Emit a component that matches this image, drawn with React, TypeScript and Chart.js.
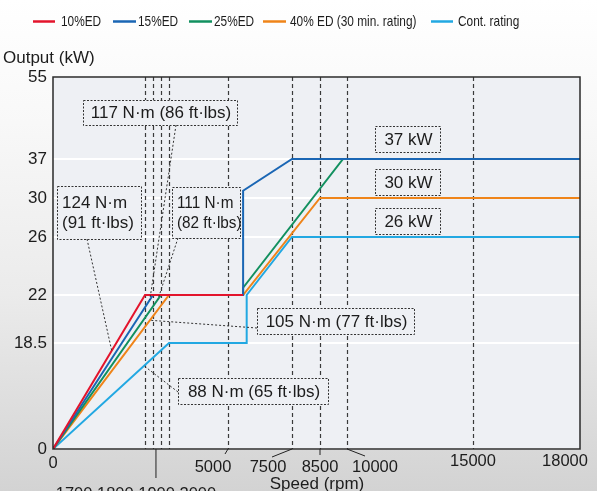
import React, { useEffect, useRef } from 'react';
import { Chart, registerables } from 'chart.js';
Chart.register(...registerables);

// ---------- data ----------
const seriesNames = ['10%ED', '15%ED', '25%ED', '40% ED (30 min. rating)', 'Cont. rating'];
const seriesColors = ['#e3142c', '#1a66b4', '#12905f', '#ef8419', '#22a8e2'];

const ed10Rpm = [0, 1700, 5590];
const ed10Kw = [0, 22, 22];
const ed15Rpm = [0, 1800, 5590, 5590, 7500, 18000];
const ed15Kw = [0, 22, 22, 31.3, 37, 37];
const ed25Rpm = [0, 1900, 5590, 5590, 9780, 18000];
const ed25Kw = [0, 22, 22, 22.5, 37, 37];
const ed40Rpm = [0, 2000, 5590, 8500, 18000];
const ed40Kw = [0, 22, 22, 30, 30];
const contRpm = [0, 2000, 5730, 5730, 7500, 18000];
const contKw = [0, 18.5, 18.5, 22, 26, 26];

const seriesRpm = [ed10Rpm, ed15Rpm, ed25Rpm, ed40Rpm, contRpm];
const seriesKw = [ed10Kw, ed15Kw, ed25Kw, ed40Kw, contKw];

// axis tick values (non-linear axes of the original drawing)
const xTickValues = [0, 1700, 1800, 1900, 2000, 5000, 7500, 8500, 10000, 15000, 18000];
const yTickValues = [0, 18.5, 22, 26, 30, 37, 55];
const yTickLabels = ['0', '18.5', '22', '26', '30', '37', '55'];
const dashedRpm = [1700, 1800, 1900, 2000, 5000, 7500, 8500, 10000, 15000];

// ---------- scale geometry (break positions of the piecewise axes) ----------
const xBreaks = [0, 92, 100, 108, 116, 175, 239, 267, 294, 420, 527];
const yBreaks = [0, 106, 154, 212, 251, 290, 372];

function piecewise(v: number, from: number[], to: number[]) {
  if (v <= from[0]) return to[0];
  for (let i = 0; i < from.length - 1; i++) {
    if (v <= from[i + 1]) {
      const t = (v - from[i]) / (from[i + 1] - from[i]);
      return to[i] + t * (to[i + 1] - to[i]);
    }
  }
  return to[to.length - 1];
}
const mapX = (rpm: number) => piecewise(rpm, xTickValues, xBreaks);
const mapY = (kw: number) => piecewise(kw, yTickValues, yBreaks);

const FONT = '"Liberation Sans", Arial, Helvetica, sans-serif';
const TEXT = '#1c1c1c';

// annotation layout
const boxes = [
  { x: 83, y: 100, w: 154, h: 25, lines: ['117 N·m (86 ft·lbs)'], sx: 1, left: false },
  { x: 57, y: 186, w: 84, h: 53, lines: ['124 N·m', '(91 ft·lbs)'], sx: 1, left: true },
  { x: 172, y: 187, w: 68, h: 51, lines: ['111 N·m', '(82 ft·lbs)'], sx: 0.9, left: true },
  { x: 257, y: 308, w: 157, h: 26, lines: ['105 N·m (77 ft·lbs)'], sx: 1, left: false },
  { x: 178, y: 378, w: 150, h: 26, lines: ['88 N·m (65 ft·lbs)'], sx: 1, left: false },
  { x: 375, y: 126, w: 65, h: 26, lines: ['37 kW'], sx: 1, left: false },
  { x: 375, y: 169, w: 65, h: 26, lines: ['30 kW'], sx: 1, left: false },
  { x: 375, y: 208, w: 65, h: 26, lines: ['26 kW'], sx: 1, left: false },
];
const leaders = [
  { sx: 176, sy: 125, series: 1, rpm: 1760 },
  { sx: 87, sy: 239, series: 0, rpm: 1085 },
  { sx: 178, sy: 238, series: 2, rpm: 1862 },
  { sx: 257, sy: 328, series: 3, rpm: 1762 },
  { sx: 178, sy: 392, series: 4, rpm: 1682 },
];
const xLabels = [
  { text: '0', rpm: 0, dx: 0, y: 463, lead: null as null | number[] },
  { text: '5000', rpm: 5000, dx: -15, y: 467, lead: [-3, 5] },
  { text: '7500', rpm: 7500, dx: -24, y: 467, lead: [-20, 8] },
  { text: '8500', rpm: 8500, dx: 0, y: 467, lead: [0, 6] },
  { text: '10000', rpm: 10000, dx: 28, y: 467, lead: [18, 7] },
  { text: '15000', rpm: 15000, dx: 0, y: 461, lead: null },
  { text: '18000', rpm: 18000, dx: -15, y: 461, lead: null },
  { text: '1700 1800 1900 2000', rpm: 1837, dx: -20, y: 494, lead: [0, 29] },
];
const legendItems = [
  { x1: 33, x2: 55, tx: 61 },
  { x1: 113, x2: 136, tx: 138 },
  { x1: 189, x2: 212, tx: 214 },
  { x1: 263, x2: 286, tx: 290 },
  { x1: 431, x2: 453, tx: 458 },
];

function drawText(ctx: CanvasRenderingContext2D, text: string, x: number, y: number, size: number, align: CanvasTextAlign, sx = 1) {
  ctx.save();
  ctx.font = `${size}px ${FONT}`;
  ctx.fillStyle = TEXT;
  ctx.textAlign = align;
  ctx.textBaseline = 'middle';
  ctx.translate(x, y);
  ctx.scale(sx, 1);
  ctx.fillText(text, 0, 0);
  ctx.restore();
}

function pointOn(chart: any, si: number, rpm: number) {
  const rpms = seriesRpm[si];
  const kws = seriesKw[si];
  const tx = mapX(rpm);
  let ty = mapY(kws[0]);
  for (let i = 0; i < rpms.length - 1; i++) {
    const x0 = mapX(rpms[i]);
    const x1 = mapX(rpms[i + 1]);
    if (x1 > x0 && tx >= x0 && tx <= x1) {
      const t = (tx - x0) / (x1 - x0);
      ty = mapY(kws[i]) + t * (mapY(kws[i + 1]) - mapY(kws[i]));
      break;
    }
  }
  return { x: chart.scales.x.getPixelForValue(tx), y: chart.scales.y.getPixelForValue(ty) };
}

const decorPlugin = {
  id: 'decor',
  beforeDraw(chart: any) {
    const { ctx, chartArea: a } = chart;
    ctx.save();
    ctx.fillStyle = '#eef0f4';
    ctx.fillRect(a.left, a.top, a.right - a.left, a.bottom - a.top);
    ctx.restore();
  },
  beforeDatasetsDraw(chart: any) {
    const { ctx, chartArea: a } = chart;
    const xs = chart.scales.x;
    ctx.save();
    ctx.strokeStyle = '#3a3a3a';
    ctx.lineWidth = 1.2;
    ctx.setLineDash([4, 3]);
    for (const v of dashedRpm) {
      const px = Math.round(xs.getPixelForValue(mapX(v))) + 0.5;
      ctx.beginPath();
      ctx.moveTo(px, a.top);
      ctx.lineTo(px, a.bottom);
      ctx.stroke();
    }
    ctx.restore();
  },
  afterDatasetsDraw(chart: any) {
    const { ctx, chartArea: a } = chart;
    // plot border
    ctx.save();
    ctx.strokeStyle = '#2a2a2a';
    ctx.lineWidth = 1.5;
    ctx.strokeRect(a.left, a.top, a.right - a.left, a.bottom - a.top);
    ctx.restore();
    // leaders
    ctx.save();
    ctx.strokeStyle = '#333';
    ctx.lineWidth = 1;
    ctx.setLineDash([2, 2]);
    for (const l of leaders) {
      const p = pointOn(chart, l.series, l.rpm);
      ctx.beginPath();
      ctx.moveTo(l.sx, l.sy);
      ctx.lineTo(p.x, p.y);
      ctx.stroke();
    }
    ctx.restore();
    // boxes
    for (const b of boxes) {
      ctx.save();
      ctx.fillStyle = '#eef0f4';
      ctx.fillRect(b.x, b.y, b.w, b.h);
      ctx.strokeStyle = '#333';
      ctx.lineWidth = 1;
      ctx.setLineDash([2, 1.5]);
      ctx.strokeRect(b.x + 0.5, b.y + 0.5, b.w, b.h);
      ctx.restore();
      const n = b.lines.length;
      const lh = 20.5;
      const cy = b.y + b.h / 2 + 1;
      b.lines.forEach((t, i) => {
        const y = cy + (i - (n - 1) / 2) * lh;
        if (b.left) drawText(ctx, t, b.x + 5, y, 17, 'left', b.sx);
        else drawText(ctx, t, b.x + b.w / 2 + 1, y, 17, 'center', b.sx);
      });
    }
  },
  afterDraw(chart: any) {
    const { ctx, chartArea: a } = chart;
    const xs = chart.scales.x;
    // x labels and their leader ticks
    for (const l of xLabels) {
      const px = xs.getPixelForValue(mapX(l.rpm));
      if (l.lead) {
        ctx.save();
        ctx.strokeStyle = '#222';
        ctx.lineWidth = 1;
        ctx.beginPath();
        ctx.moveTo(px, a.bottom);
        ctx.lineTo(px + l.lead[0], a.bottom + l.lead[1]);
        ctx.stroke();
        ctx.restore();
      }
      drawText(ctx, l.text, px + l.dx, l.y, 17, 'center', l.text.length > 6 ? 0.97 : 0.97);
    }
    // axis titles
    drawText(ctx, 'Output (kW)', 3, 58, 17, 'left');
    drawText(ctx, 'Speed (rpm)', 317, 484, 17, 'center');
    // legend
    legendItems.forEach((it, i) => {
      ctx.save();
      ctx.strokeStyle = seriesColors[i];
      ctx.lineWidth = 2.5;
      ctx.beginPath();
      ctx.moveTo(it.x1, 21.5);
      ctx.lineTo(it.x2, 21.5);
      ctx.stroke();
      ctx.restore();
      drawText(ctx, seriesNames[i], it.tx, 21.5, 15, 'left', 0.79);
    });
  },
};

export default function App() {
  const ref = useRef<HTMLCanvasElement | null>(null);
  useEffect(() => {
    document.body.style.margin = '0';
    if (!ref.current) return;
    const datasets = seriesRpm.map((rpms, si) => ({
      label: seriesNames[si],
      data: rpms.map((r, i) => ({ x: mapX(r), y: mapY(seriesKw[si][i]) })),
      borderColor: seriesColors[si],
      backgroundColor: seriesColors[si],
      borderWidth: 2,
      pointRadius: 0,
      fill: false,
      tension: 0,
    }));
    const chart = new Chart(ref.current, {
      type: 'line',
      data: { datasets },
      options: {
        animation: false,
        responsive: false,
        devicePixelRatio: 1,
        layout: { padding: { left: 0, right: 17, top: 77, bottom: 42 } },
        plugins: { legend: { display: false }, tooltip: { enabled: false } },
        scales: {
          x: { type: 'linear', display: false, min: 0, max: xBreaks[xBreaks.length - 1] },
          y: {
            type: 'linear',
            min: 0,
            max: yBreaks[yBreaks.length - 1],
            afterFit: (s: any) => { s.width = 53; },
            afterBuildTicks: (s: any) => { s.ticks = yBreaks.map((v) => ({ value: v })); },
            ticks: {
              autoSkip: false,
              padding: 6,
              color: TEXT,
              font: { family: FONT, size: 17 },
              callback: (_v: any, i: number) => yTickLabels[i],
            },
            grid: { color: '#ffffff', lineWidth: 2, drawTicks: false },
            border: { display: false },
          },
        },
      },
      plugins: [decorPlugin],
    } as any);
    return () => chart.destroy();
  }, []);
  return (
    <div
      style={{
        position: 'fixed',
        left: 0,
        top: 0,
        width: 597,
        height: 491,
        background: 'linear-gradient(to bottom, #ffffff 0%, #f8f8f8 25%, #ebebeb 60%, #d3d3d3 100%)',
      }}
    >
      <canvas ref={ref} width={597} height={491} style={{ display: 'block' }} />
    </div>
  );
}
